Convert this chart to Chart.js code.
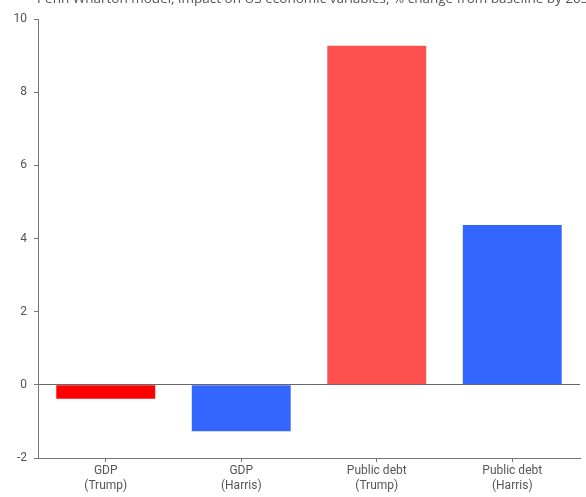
<!DOCTYPE html>
<html>
<head>
<meta charset="utf-8">
<script src="https://cdn.jsdelivr.net/npm/chart.js@4"></script>
<style>
  html, body { margin: 0; padding: 0; background: #fff; overflow: hidden; }
  #wrap { position: relative; width: 586px; height: 497px; overflow: hidden; }
  #title {
    position: absolute; left: 37px; top: -11px; white-space: nowrap;
    font: 13.5px "Open Sans", sans-serif; color: #555;
  }
  canvas { position: absolute; left: 0; top: 0; }
</style>
</head>
<body>
<div id="wrap">
  <canvas id="chart" width="586" height="497"></canvas>
  <div id="title">Penn Wharton model, impact on US economic variables, % change from baseline by 2034</div>
</div>
<script>
// Categories and values (% change from baseline)
const categories = [['GDP', '(Trump)'], ['GDP', '(Harris)'], ['Public debt', '(Trump)'], ['Public debt', '(Harris)']];
const values = [-0.38, -1.27, 9.27, 4.37];
const barColors = ['#ff0000', '#3366ff', '#ff5050', '#3366ff'];
const yTicks = [-2, 0, 2, 4, 6, 8, 10];

const axisColor = '#777';
const labelColor = '#555';

new Chart(document.getElementById('chart'), {
    type: 'bar',
    data: {
        labels: categories,
        datasets: [{
            data: values,
            backgroundColor: barColors,
            borderWidth: 0,
            barPercentage: 0.73,
            categoryPercentage: 1
        }]
    },
    options: {
        responsive: false,
        animation: false,
        layout: { padding: { top: 19, right: 6, left: 0, bottom: 0 } },
        plugins: {
            legend: { display: false },
            tooltip: { enabled: false }
        },
        scales: {
            x: {
                grid: { offset: false, drawOnChartArea: false, tickLength: 4, tickColor: axisColor },
                border: { color: axisColor },
                ticks: { color: labelColor, font: { family: 'Roboto', size: 12 }, padding: 2, maxRotation: 0 },
                afterFit: (scale) => { scale.height = 39; }
            },
            y: {
                min: -2,
                max: 10,
                afterBuildTicks: (scale) => { scale.ticks = yTicks.map(v => ({ value: v })); },
                grid: {
                    tickLength: 4,
                    tickColor: axisColor,
                    color: (ctx) => (ctx.tick && ctx.tick.value === 0) ? '#666' : 'rgba(0,0,0,0)'
                },
                border: { color: axisColor },
                ticks: { color: labelColor, font: { family: 'Roboto', size: 12 }, padding: 7 },
                afterFit: (scale) => { scale.width = 38; }
            }
        }
    }
});
</script>
</body>
</html>
